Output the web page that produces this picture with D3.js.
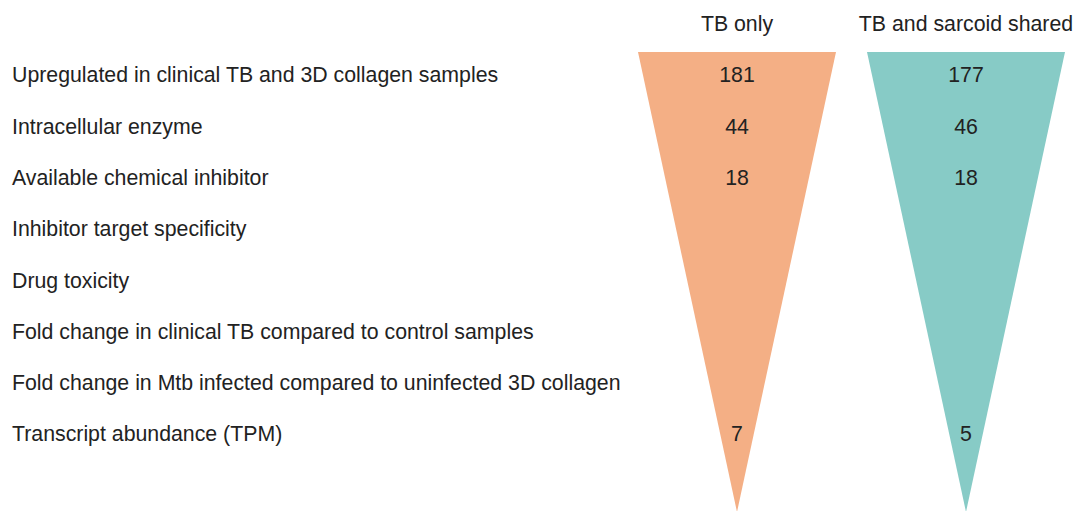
<!DOCTYPE html>
<html>
<head>
<meta charset="utf-8">
<script src="https://cdn.jsdelivr.net/npm/d3@7"></script>
<style>
  body { margin: 0; background: #fff; }
  svg { display: block; font-family: "Liberation Sans", Arial, sans-serif; }
</style>
</head>
<body>
<svg width="1076" height="511"></svg>
<script>
// filter steps, top to bottom
const steps = [
  'Upregulated in clinical TB and 3D collagen samples',
  'Intracellular enzyme',
  'Available chemical inhibitor',
  'Inhibitor target specificity',
  'Drug toxicity',
  'Fold change in clinical TB compared to control samples',
  'Fold change in Mtb infected compared to uninfected 3D collagen',
  'Transcript abundance (TPM)'
]
const groups = ['TB only', 'TB and sarcoid shared']
const tbOnly = [181, 44, 18, null, null, null, null, 7]
const shared = [177, 46, 18, null, null, null, null, 5]
const colors = ['#f4af85', '#87cbc6']

const svg = d3.select('svg')
const textColor = '#222'
const fontSize = 21.3

// rows
const y = d3.scalePoint()
  .domain(steps)
  .range([75, 434])

// funnel columns
const x = d3.scalePoint()
  .domain(groups)
  .range([737, 966])

const halfWidth = 99
const funnelTop = 52, funnelBottom = 512

// row labels
svg.append('g')
  .selectAll('text')
  .data(steps)
  .join('text')
  .attr('x', 12)
  .attr('y', d => y(d))
  .attr('dy', '0.35em')
  .attr('font-size', fontSize)
  .attr('fill', textColor)
  .text(d => d)

const series = [tbOnly, shared]
groups.forEach((g, i) => {
  const cx = x(g)
  const tri = d3.line()([
    [cx - halfWidth, funnelTop],
    [cx + halfWidth, funnelTop],
    [cx, funnelBottom]
  ]) + 'Z'
  svg.append('path')
    .attr('d', tri)
    .attr('fill', colors[i])

  svg.append('text')
    .attr('x', cx)
    .attr('y', 24)
    .attr('dy', '0.35em')
    .attr('text-anchor', 'middle')
    .attr('font-size', fontSize)
    .attr('fill', textColor)
    .text(g)

  svg.append('g')
    .selectAll('text')
    .data(steps.map((s, j) => ({step: s, v: series[i][j]})).filter(d => d.v != null))
    .join('text')
    .attr('x', cx)
    .attr('y', d => y(d.step))
    .attr('dy', '0.35em')
    .attr('text-anchor', 'middle')
    .attr('font-size', fontSize)
    .attr('fill', textColor)
    .text(d => d.v)
})
</script>
</body>
</html>
